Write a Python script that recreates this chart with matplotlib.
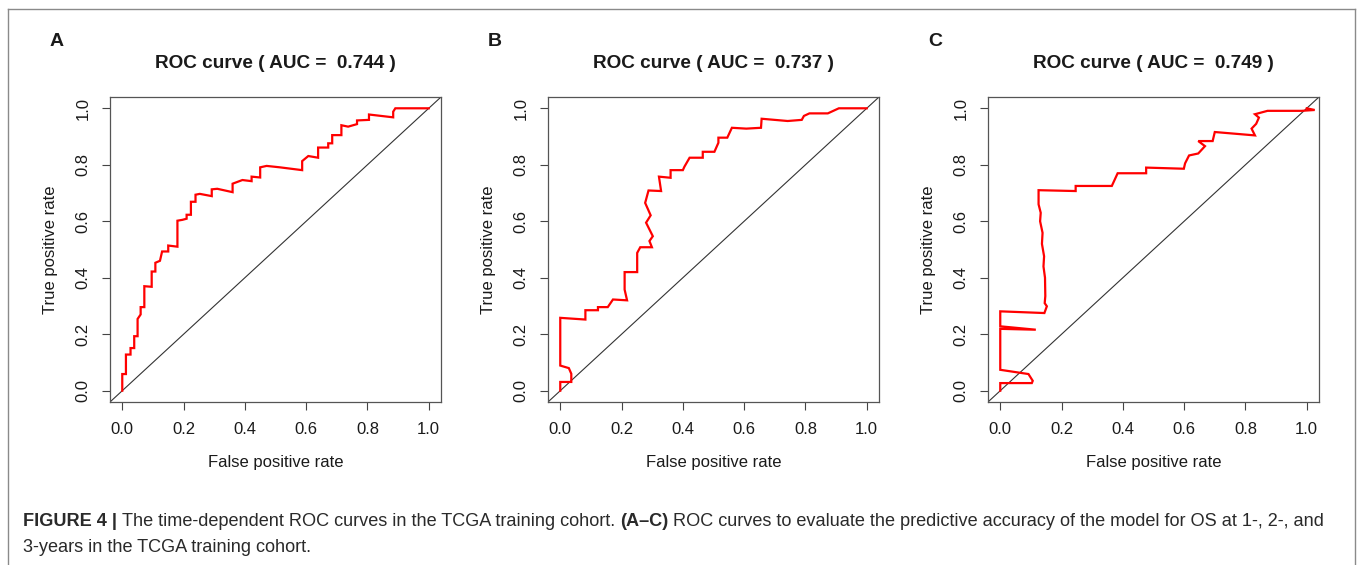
import matplotlib
matplotlib.use("Agg")
import matplotlib.pyplot as plt
from matplotlib.lines import Line2D

plt.rcParams['font.family'] = ['Liberation Sans', 'DejaVu Sans']

W, H = 1358, 565
DPI = 100

# ---------------- data ----------------
panel_letters = ["A", "B", "C"]
auc_values = ["0.744", "0.737", "0.749"]

fpr_a = [0, 0, 0.012, 0.012, 0.027, 0.027, 0.039, 0.039, 0.05, 0.05, 0.06, 0.06, 0.072, 0.072,
         0.096, 0.096, 0.108, 0.108, 0.123, 0.13, 0.15, 0.15, 0.18, 0.18, 0.196, 0.21, 0.21,
         0.224, 0.224, 0.239, 0.239, 0.253, 0.292, 0.292, 0.31, 0.36, 0.36, 0.392, 0.422, 0.422,
         0.45, 0.45, 0.471, 0.514, 0.587, 0.587, 0.607, 0.639, 0.639, 0.672, 0.672, 0.685, 0.685,
         0.715, 0.715, 0.737, 0.766, 0.766, 0.805, 0.805, 0.884, 0.884, 0.891, 1.0]
tpr_a = [0, 0.059, 0.059, 0.128, 0.128, 0.151, 0.151, 0.193, 0.193, 0.254, 0.27, 0.296, 0.296, 0.37,
         0.368, 0.422, 0.422, 0.453, 0.46, 0.493, 0.493, 0.514, 0.51, 0.602, 0.605, 0.609, 0.623,
         0.623, 0.669, 0.669, 0.694, 0.697, 0.689, 0.713, 0.715, 0.703, 0.733, 0.746, 0.742, 0.758,
         0.755, 0.791, 0.796, 0.791, 0.781, 0.813, 0.831, 0.825, 0.861, 0.861, 0.876, 0.876, 0.905,
         0.905, 0.94, 0.935, 0.944, 0.957, 0.959, 0.978, 0.968, 0.988, 1.0, 1.0]

fpr_b = [0, 0, 0.036, 0.036, 0.028, 0, 0, 0.082, 0.082, 0.123, 0.123, 0.155, 0.172, 0.218, 0.21,
         0.21, 0.251, 0.251, 0.261, 0.299, 0.291, 0.302, 0.28, 0.295, 0.277, 0.288, 0.329, 0.322,
         0.36, 0.36, 0.40, 0.405, 0.422, 0.465, 0.465, 0.503, 0.516, 0.516, 0.545, 0.56, 0.607,
         0.655, 0.657, 0.742, 0.788, 0.795, 0.813, 0.873, 0.909, 1.0]
tpr_b = [0, 0.031, 0.031, 0.06, 0.08, 0.089, 0.258, 0.252, 0.285, 0.285, 0.296, 0.296, 0.323, 0.32,
         0.358, 0.42, 0.42, 0.488, 0.508, 0.508, 0.53, 0.547, 0.595, 0.621, 0.665, 0.709, 0.707,
         0.758, 0.754, 0.781, 0.781, 0.793, 0.825, 0.825, 0.846, 0.846, 0.878, 0.896, 0.896, 0.931,
         0.928, 0.931, 0.963, 0.955, 0.959, 0.973, 0.982, 0.982, 1.0, 1.0]

fpr_c = [0, 0, 0.103, 0.106, 0.092, 0, 0, 0.116, 0, 0, 0.144, 0.152, 0.145, 0.147, 0.146, 0.141,
         0.143, 0.136, 0.138, 0.130, 0.132, 0.125, 0.125, 0.246, 0.246, 0.364, 0.383, 0.476, 0.476,
         0.599, 0.603, 0.616, 0.646, 0.668, 0.646, 0.693, 0.70, 0.831, 0.82, 0.835, 0.844, 0.831,
         0.872, 0.983, 1.026, 1.0]
tpr_c = [0, 0.027, 0.027, 0.035, 0.059, 0.074, 0.219, 0.216, 0.228, 0.281, 0.275, 0.299, 0.31,
         0.335, 0.40, 0.44, 0.476, 0.52, 0.559, 0.60, 0.63, 0.66, 0.71, 0.707, 0.725, 0.725, 0.77,
         0.77, 0.79, 0.786, 0.805, 0.833, 0.84, 0.866, 0.884, 0.884, 0.916, 0.904, 0.928, 0.945,
         0.967, 0.979, 0.991, 0.991, 0.994, 1.0]

curves = [(fpr_a, tpr_a), (fpr_b, tpr_b), (fpr_c, tpr_c)]
tick_values = [0.0, 0.2, 0.4, 0.6, 0.8, 1.0]
tick_labels = ["0.0", "0.2", "0.4", "0.6", "0.8", "1.0"]

caption_line1 = [("FIGURE 4 | ", "bold"),
                 ("The time-dependent ROC curves in the TCGA training cohort. ", "normal"),
                 ("(A\u2013C)", "bold"),
                 (" ROC curves to evaluate the predictive accuracy of the model for OS at 1-, 2-, and", "normal")]
caption_line2 = [("3-years in the TCGA training cohort.", "normal")]

# ---------------- layout (pixels) ----------------
axes_left = [110, 548, 988]
axes_top, axes_bottom, axes_w = 97, 402, 331

fig = plt.figure(figsize=(W / DPI, H / DPI), dpi=DPI)
TXT = '#1a1a1a'


def fx(x):
    return x / W


def fy(y):
    return 1 - y / H


for i, (fpr, tpr) in enumerate(curves):
    l = axes_left[i]
    ax = fig.add_axes([fx(l), fy(axes_bottom), axes_w / W, (axes_bottom - axes_top) / H])
    ax.set_xlim(-0.04, 1.04)
    ax.set_ylim(-0.04, 1.04)
    ax.axline((0, 0), slope=1, color='#333333', lw=0.8)
    ax.plot(fpr, tpr, color='#ff0000', lw=1.6, solid_joinstyle='miter')
    ax.set_xticks(tick_values)
    ax.set_xticklabels(tick_labels)
    ax.set_yticks(tick_values)
    ax.set_yticklabels(tick_labels, rotation=90, va='center')
    ax.tick_params(length=5.8, width=0.8, color='#444444', pad=8.3, labelsize=12, labelcolor=TXT)
    for s in ax.spines.values():
        s.set_color('#555555')
        s.set_linewidth(0.9)
    cx = l + axes_w / 2
    fig.text(fx(cx), fy(68), f"ROC curve ( AUC =  {auc_values[i]} )", ha='center', va='baseline',
             fontsize=13.7, fontweight='bold', color=TXT)
    fig.text(fx(l - 60), fy(46), panel_letters[i], ha='left', va='baseline',
             fontsize=14, fontweight='bold', color=TXT)
    fig.text(fx(cx), fy(467), "False positive rate", ha='center', va='baseline',
             fontsize=12, color=TXT)
    fig.text(fx(l - 51.5), fy((axes_top + axes_bottom) / 2), "True positive rate", rotation=90,
             ha='right', va='center', fontsize=12, color=TXT)

# figure frame (open at bottom)
frame_kw = dict(color='#8a8a8a', lw=1.0, transform=fig.transFigure)
fig.add_artist(Line2D([fx(7.5), fx(1354.5)], [fy(8.5), fy(8.5)], **frame_kw))
fig.add_artist(Line2D([fx(7.5), fx(7.5)], [fy(8.5), fy(570)], **frame_kw))
fig.add_artist(Line2D([fx(1354.5), fx(1354.5)], [fy(8.5), fy(570)], **frame_kw))

# caption with mixed weights
fig.canvas.draw()
renderer = fig.canvas.get_renderer()
CAP_SIZE = 13.05


def draw_line(pieces, x0, ybase):
    x = x0
    for txt, weight in pieces:
        t = fig.text(fx(x), fy(ybase), txt, ha='left', va='baseline', fontsize=CAP_SIZE,
                     fontweight=weight, color='#2a2a2a')
        bb = t.get_window_extent(renderer)
        x += bb.width


draw_line(caption_line1, 23, 526.5)
draw_line(caption_line2, 23, 552)

fig.savefig("out.png", dpi=DPI)
